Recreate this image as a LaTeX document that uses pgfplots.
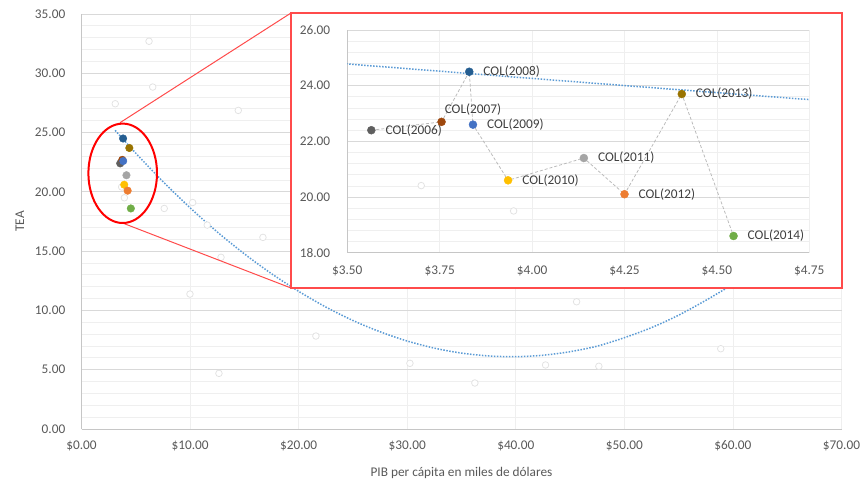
\documentclass[border=0pt]{standalone}
\usepackage{pgfplots}
\usepackage{pgfplotstable}
\pgfplotsset{compat=1.18}
\usepackage{fontspec}
\setmainfont{Carlito}

\definecolor{tickc}{HTML}{595959}
\definecolor{lblc}{HTML}{404040}
\definecolor{gmaj}{HTML}{D9D9D9}
\definecolor{gmin}{HTML}{EFEFEF}
\definecolor{axc}{HTML}{C6C6C6}
\definecolor{trend}{HTML}{5B9BD5}
\definecolor{faint}{HTML}{E2E2E2}
\definecolor{zoomred}{HTML}{FF4B4B}
\definecolor{c06}{HTML}{5F5F5F}
\definecolor{c07}{HTML}{9E480E}
\definecolor{c08}{HTML}{255E91}
\definecolor{c09}{HTML}{4472C4}
\definecolor{c10}{HTML}{FFC000}
\definecolor{c11}{HTML}{A5A5A5}
\definecolor{c12}{HTML}{ED7D31}
\definecolor{c13}{HTML}{997300}
\definecolor{c14}{HTML}{70AD47}

\newcommand{\fsz}{\fontsize{13.3bp}{16bp}\selectfont}

% other countries (faint circles)
\pgfplotstableread{
x y
6.22 32.7
6.56 28.84
3.11 27.43
14.44 26.87
3.70 20.41
3.95 19.5
7.62 18.6
10.24 19.1
11.58 17.2
16.71 16.16
12.85 14.48
9.99 11.38
12.66 4.69
21.59 7.84
30.25 5.54
36.23 3.88
42.74 5.40
45.6 10.73
58.88 6.77
47.65 5.29
}\others

% Colombia 2006-2014
\pgfplotstableread{
x y
3.565 22.4
3.755 22.7
3.83 24.5
3.84 22.6
3.935 20.6
4.14 21.4
4.25 20.1
4.405 23.7
4.545 18.6
}\col

% polynomial trend line
\pgfplotstableread{
x y
3.1 25.19
5 23.26
7.5 20.87
10 18.66
12.5 16.62
15 14.77
17.5 13.10
20 11.61
22.5 10.29
25 9.15
27.5 8.20
30 7.42
32.5 6.82
35 6.40
37.5 6.16
40 6.10
42.5 6.22
45 6.52
47.5 6.99
50 7.70
52.5 8.55
55 9.60
57.5 10.85
60 12.20
}\trendtab

\pgfplotsset{
  base/.style={
    scale only axis,
    axis lines*=left,
    axis line style={axc,-},
    tick style={draw=none},
    grid=both,
    major grid style={gmaj, line width=0.75bp},
    minor grid style={gmin, line width=0.75bp},
    major x grid style={gmin, line width=0.75bp},
    font=\fsz,
    tick label style={text=tickc, inner sep=0pt, font=\fsz},
    yticklabel style={anchor=east},
    xticklabel style={anchor=center},
    /pgf/number format/fixed,
    /pgf/number format/fixed zerofill,
    /pgf/number format/precision=2,
    /pgf/number format/assume math mode=true,
    xticklabel={\$\pgfmathprintnumber{\tick}},
    yticklabel={\pgfmathprintnumber{\tick}},
  },
  pt/.style={only marks, mark=*, mark size=#1, mark options={draw=none}},
  trendline/.style={trend, line width=1.5bp, dash pattern=on 1.5bp off 1.5bp, smooth},
  lab/.style={nodes near coords={#1},
    every node near coord/.append style={anchor=west, xshift=14bp, text=lblc, inner sep=0pt, font=\fsz}},
}

\begin{document}
\begin{tikzpicture}
\path[use as bounding box] (0bp,0bp) rectangle (864bp,482bp);

\begin{axis}[base,
  at={(81.5bp,53bp)}, anchor=south west,
  width=760bp, height=415bp,
  xmin=0, xmax=70, ymin=0, ymax=35,
  xtick={0,10,...,70}, ytick={0,5,...,35},
  minor y tick num=4,
  yticklabel style={xshift=-16bp},
  xticklabel style={yshift=-17bp},
  xlabel={PIB per cápita en miles de dólares},
  ylabel={TEA},
  label style={text=tickc},
  xlabel style={at={(axis description cs:0.5,-0.107)}, anchor=center},
  ylabel style={at={(axis description cs:-0.081,0.5)}, anchor=center},
]
\addplot[only marks, mark=*, mark size=3.3bp, mark options={draw=faint, fill=white, line width=0.75bp}] table {\others};
\addplot[trendline] table {\trendtab};
\addplot[pt=3.8bp, color=c06] coordinates {(3.565,22.4)};
\addplot[pt=3.8bp, color=c07] coordinates {(3.755,22.7)};
\addplot[pt=3.8bp, color=c09] coordinates {(3.84,22.6)};
\addplot[pt=3.8bp, color=c08] coordinates {(3.83,24.5)};
\addplot[pt=3.8bp, color=c11] coordinates {(4.14,21.4)};
\addplot[pt=3.8bp, color=c10] coordinates {(3.935,20.6)};
\addplot[pt=3.8bp, color=c12] coordinates {(4.25,20.1)};
\addplot[pt=3.8bp, color=c13] coordinates {(4.405,23.7)};
\addplot[pt=3.8bp, color=c14] coordinates {(4.545,18.6)};
\end{axis}

% zoom callout
\draw[zoomred, line width=1bp] (120bp,359.3bp) -- (291bp,469bp);
\draw[zoomred, line width=1bp] (123.3bp,258.7bp) -- (291bp,194bp);
\draw[red, line width=2bp] (122.7bp,308.7bp) ellipse [x radius=34.3bp, y radius=49.7bp];
\draw[zoomred, line width=1.5bp, fill=white] (291bp,194bp) rectangle (842bp,469bp);

\begin{axis}[base,
  at={(347.3bp,229.3bp)}, anchor=south west,
  width=462bp, height=222.7bp,
  xmin=3.5, xmax=4.75, ymin=18, ymax=26,
  xtick={3.5,3.75,4,4.25,4.5,4.75}, ytick={18,20,22,24,26},
  minor y tick num=4,
  yticklabel style={xshift=-17bp},
  xticklabel style={yshift=-18bp},
]
\addplot[only marks, mark=*, mark size=3.3bp, mark options={draw=faint, fill=white, line width=0.75bp}] coordinates {(3.70,20.41) (3.95,19.5)};
\addplot[trendline] coordinates {
  (3.4,24.88) (3.5,24.78) (4.0,24.26) (4.5,23.75) (4.75,23.50) (4.85,23.40)};
\addplot[color=gray!55, line width=0.75bp, dash pattern=on 3bp off 2bp] table {\col};
\addplot[pt=4bp, color=c06, lab={COL(2006)}] coordinates {(3.565,22.4)};
\addplot[pt=4bp, color=c07, nodes near coords={COL(2007)},
  every node near coord/.append style={anchor=west, xshift=3bp, yshift=12.6bp, text=lblc, inner sep=0pt, font=\fsz}] coordinates {(3.755,22.7)};
\addplot[pt=4bp, color=c08, lab={COL(2008)}] coordinates {(3.83,24.5)};
\addplot[pt=4bp, color=c09, lab={COL(2009)}] coordinates {(3.84,22.6)};
\addplot[pt=4bp, color=c10, lab={COL(2010)}] coordinates {(3.935,20.6)};
\addplot[pt=4bp, color=c11, lab={COL(2011)}] coordinates {(4.14,21.4)};
\addplot[pt=4bp, color=c12, lab={COL(2012)}] coordinates {(4.25,20.1)};
\addplot[pt=4bp, color=c13, lab={COL(2013)}] coordinates {(4.405,23.7)};
\addplot[pt=4bp, color=c14, lab={COL(2014)}] coordinates {(4.545,18.6)};
\end{axis}
\end{tikzpicture}
\end{document}
